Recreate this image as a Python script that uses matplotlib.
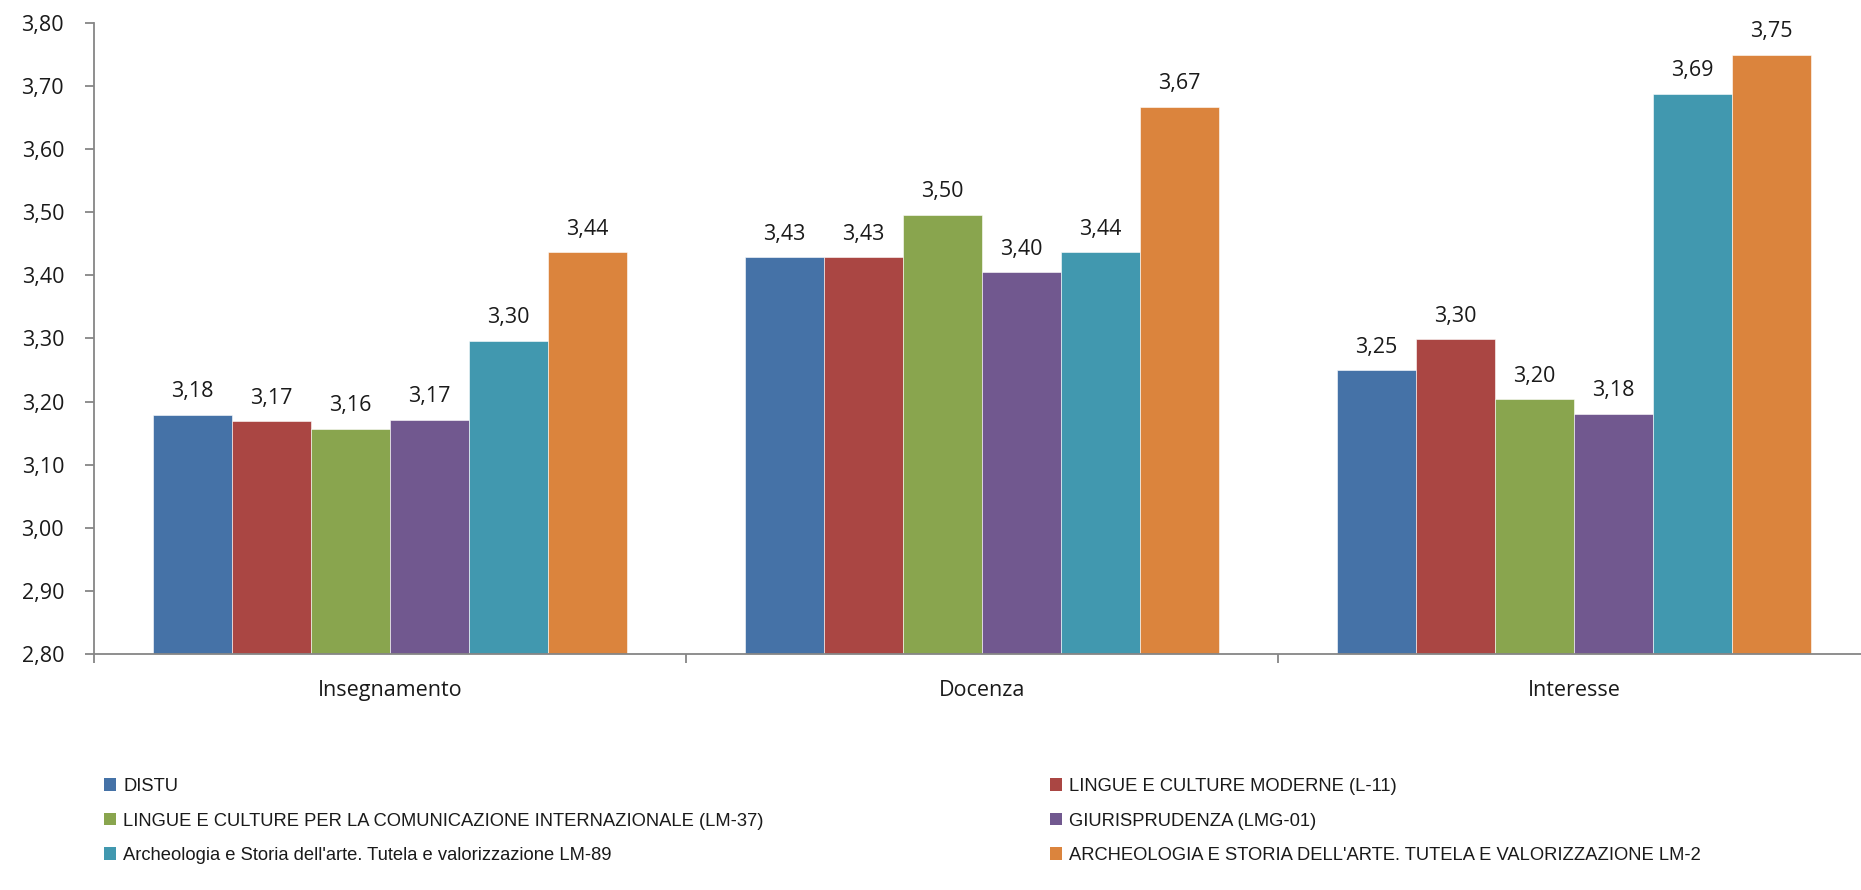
import numpy as np
import matplotlib
matplotlib.use("Agg")
import matplotlib.pyplot as plt
from matplotlib.patches import Patch
from matplotlib.ticker import FuncFormatter, FixedLocator

categories = ["Insegnamento", "Docenza", "Interesse"]
series_names = [
    "DISTU",
    "LINGUE E CULTURE MODERNE (L-11)",
    "LINGUE E CULTURE PER LA COMUNICAZIONE INTERNAZIONALE (LM-37)",
    "GIURISPRUDENZA (LMG-01)",
    "Archeologia e Storia dell'arte. Tutela e valorizzazione LM-89",
    "ARCHEOLOGIA E STORIA DELL'ARTE. TUTELA E VALORIZZAZIONE LM-2",
]
distu = [3.179, 3.429, 3.250]
lingue_l11 = [3.169, 3.429, 3.299]
lingue_lm37 = [3.157, 3.496, 3.204]
giuri = [3.171, 3.405, 3.181]
arch_lm89 = [3.296, 3.437, 3.688]
arch_lm2 = [3.437, 3.667, 3.750]
values = [distu, lingue_l11, lingue_lm37, giuri, arch_lm89, arch_lm2]
colors = ["#4572A7", "#AA4643", "#89A54E", "#71588F", "#4198AF", "#DB843D"]

num_font = "Open Sans"
leg_font = "Liberation Sans"
axis_grey = "#868686"

fig = plt.figure(figsize=(18.61, 8.9), dpi=100)
ax = fig.add_axes([0.0505, 0.2652, 0.9543, 0.709])

x = np.arange(len(categories))
w = 0.1335
for i, (vals, c) in enumerate(zip(values, colors)):
    pos = x + (i - 2.5) * w
    ax.bar(pos, np.array(vals) - 2.8, w, bottom=2.8, color=c,
           edgecolor="white", linewidth=0.4)
    for xp, v in zip(pos, vals):
        ax.annotate(f"{v:.2f}".replace(".", ","), (xp, v), xytext=(0, 9),
                    textcoords="offset points", ha="center", va="bottom",
                    fontsize=15.5, family=num_font, color="#1a1a1a")

ax.set_xlim(-0.5, 2.5)
ax.set_ylim(2.8, 3.8)
ax.set_yticks(np.arange(2.8, 3.81, 0.1))
ax.yaxis.set_major_formatter(FuncFormatter(lambda v, p: f"{v:.2f}".replace(".", ",")))
ax.set_xticks(x)
ax.set_xticklabels(categories)
ax.xaxis.set_minor_locator(FixedLocator([-0.5, 0.5, 1.5, 2.5]))

for s in ["top", "right"]:
    ax.spines[s].set_visible(False)
for s in ["left", "bottom"]:
    ax.spines[s].set_color(axis_grey)
    ax.spines[s].set_linewidth(1.3)

ax.tick_params(axis="y", direction="out", length=6.5, width=1.3, color=axis_grey,
               pad=15, labelsize=15.5, labelcolor="#1a1a1a")
ax.tick_params(axis="x", which="major", length=0, pad=19, labelsize=15.5,
               labelcolor="#1a1a1a")
ax.tick_params(axis="x", which="minor", direction="out", length=6.5, width=1.3,
               color=axis_grey)
for lab in ax.get_xticklabels() + ax.get_yticklabels():
    lab.set_family(num_font)

handles = [Patch(facecolor=c) for c in colors]
common = dict(frameon=False, loc="center left", borderpad=0, borderaxespad=0,
              handlelength=0.66, handleheight=0.66, handletextpad=0.4,
              labelspacing=0.95, prop={"family": leg_font, "size": 13.2})
leg1 = fig.legend([handles[i] for i in (0, 2, 4)], [series_names[i] for i in (0, 2, 4)],
                  bbox_to_anchor=(104 / 1861, 1 - 821 / 890), **common)
leg2 = fig.legend([handles[i] for i in (1, 3, 5)], [series_names[i] for i in (1, 3, 5)],
                  bbox_to_anchor=(1050 / 1861, 1 - 821 / 890), **common)
for leg in (leg1, leg2):
    for t in leg.get_texts():
        t.set_color("#1a1a1a")

fig.savefig("out.png", dpi=100)
